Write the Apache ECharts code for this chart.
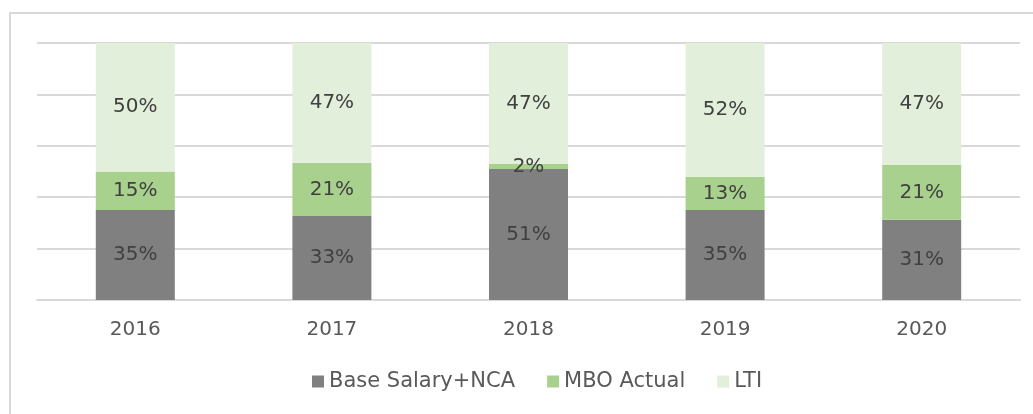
<!DOCTYPE html>
<html><head><meta charset="utf-8">
<script src="https://cdn.jsdelivr.net/npm/echarts@6/dist/echarts.min.js"></script>
<style>html,body{margin:0;padding:0;background:#fff}#c{width:1033px;height:414px}</style>
</head><body><div id="c"></div>
<script>
const categories = ['2016','2017','2018','2019','2020'];
const baseSalary = [35, 32.7, 51, 35, 31.2];
const mboActual = [15, 20.7, 2, 13, 21.4];
const lti = [50, 46.6, 47, 52, 47.4];
const seriesNames = ['Base Salary+NCA','MBO Actual','LTI'];

const FONT = 'DejaVu Sans';
const chart = echarts.init(document.getElementById('c'));
const lbl = {show:true, position:'inside', formatter:p => Math.round(p.value) + '%', color:'#404040', fontSize:20, fontFamily:FONT};
function mk(name, data, color){
  return {name, type:'bar', stack:'t', data, barWidth:79, itemStyle:{color}, label:lbl, emphasis:{disabled:true}};
}
chart.setOption({
  animation:false,
  graphic:[{type:'rect', shape:{x:10,y:13,width:1040,height:420}, style:{fill:'none', stroke:'#d9d9d9', lineWidth:2}}],
  grid:{left:37, right:13, top:43, bottom:114},
  legend:{bottom:17, left:307, itemWidth:12, itemHeight:12, itemGap:32, icon:'rect',
    textStyle:{fontSize:21, color:'#595959', fontFamily:FONT}, data:seriesNames},
  xAxis:{type:'category', data:categories, axisTick:{show:false},
    axisLine:{lineStyle:{color:'#d9d9d9', width:2}},
    axisLabel:{fontSize:20, color:'#595959', fontFamily:FONT, margin:20}},
  yAxis:{type:'value', min:0, max:100, interval:20, axisLabel:{show:false},
    splitLine:{lineStyle:{color:'#d9d9d9', width:2}}},
  series:[mk(seriesNames[0], baseSalary, '#808080'), mk(seriesNames[1], mboActual, '#a9d18e'), mk(seriesNames[2], lti, '#e2efda')]
});
</script></body></html>
